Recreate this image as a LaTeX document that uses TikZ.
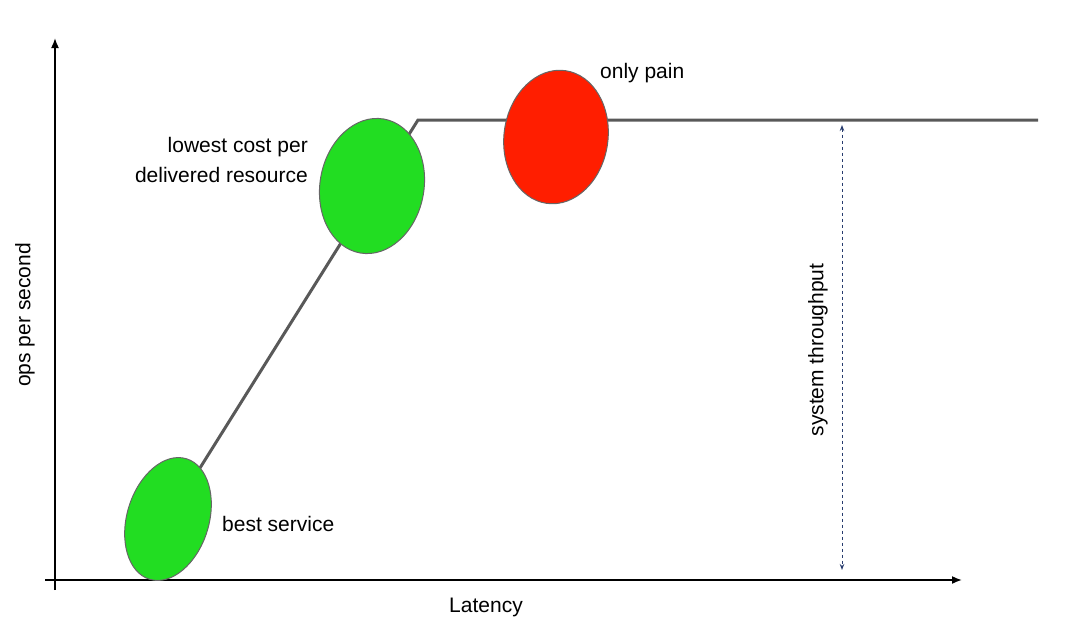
\documentclass[tikz,border=0pt]{standalone}
\usetikzlibrary{arrows.meta}
\usepackage{fontspec}
\setmainfont{Liberation Sans}
\definecolor{gblob}{RGB}{34,221,34}
\definecolor{rblob}{RGB}{255,30,0}
\definecolor{dblue}{RGB}{40,60,110}
\begin{document}
\begin{tikzpicture}[x=1pt,y=-1pt,
  lbl/.style={font=\fontsize{21}{30}\selectfont, inner sep=0pt}]
\useasboundingbox (0,0) rectangle (1069,637);
\coordinate (yb) at (55,590);
\coordinate (ytop) at (55,38);
\coordinate (xl) at (45,580);
\coordinate (xr) at (962,580);
\draw[line width=1.6pt,-{Latex[length=10pt,width=8pt]}] (yb) -- (ytop);
\draw[line width=1.6pt,-{Latex[length=10pt,width=8pt]}] (xl) -- (xr);
\coordinate (c1) at (168,519);
\coordinate (k) at (418,120);
\coordinate (c3) at (1038,120);
\draw[line width=3pt, black!65] (c1) -- (k) -- (c3);
\filldraw[fill=gblob, draw=black!60, line width=1pt, rotate around={-17:(168,519)}] (168,519) ellipse [x radius=41, y radius=63];
\filldraw[fill=gblob, draw=black!60, line width=1pt, rotate around={-10:(372,186)}] (372,186) ellipse [x radius=52, y radius=68];
\filldraw[fill=rblob, draw=black!60, line width=1pt, rotate around={-8:(556,137)}] (556,137) ellipse [x radius=52, y radius=67];
\coordinate (at) at (842,125);
\coordinate (ab) at (842,570);
\draw[dashed, line width=1pt, dblue, {Stealth[length=6pt]}-{Stealth[length=6pt]}] (at) -- (ab);
\node[lbl, rotate=90] (st) at (818,350) {system throughput};
\node[lbl, rotate=90] (ops) at (25,315) {ops per second};
\node[lbl] (lat) at (486,607) {Latency};
\node[lbl, anchor=west] (bs) at (222,524) {best service};
\node[lbl, anchor=east, align=right] (lc) at (308,160) {lowest cost per\\delivered resource};
\node[lbl, anchor=west] (op) at (600,73) {only pain};
\end{tikzpicture}
\end{document}
